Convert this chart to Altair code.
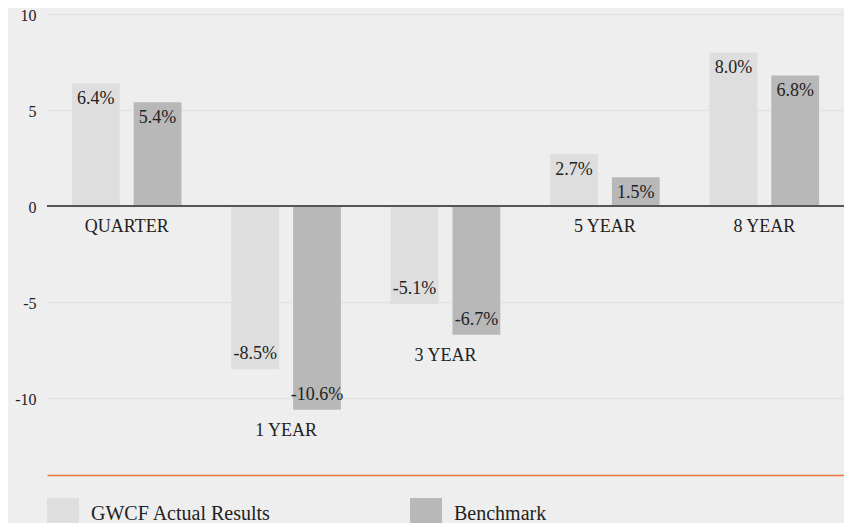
import altair as alt
import pandas as pd

categories = ["QUARTER", "1 YEAR", "3 YEAR", "5 YEAR", "8 YEAR"]
series_names = ["GWCF Actual Results", "Benchmark"]
actual = [6.4, -8.5, -5.1, 2.7, 8.0]
benchmark = [5.4, -10.6, -6.7, 1.5, 6.8]
y_ticks = [-10, -5, 0, 5, 10]
zero_line = [0]

FONT = "Liberation Serif"
BG = "#eeeeee"

rows = []
for c, a, b in zip(categories, actual, benchmark):
    rows.append({"cat": c, "series": series_names[0], "value": a, "label": f"{a:.1f}%"})
    rows.append({"cat": c, "series": series_names[1], "value": b, "label": f"{b:.1f}%"})
df = pd.DataFrame(rows)

cat_df = pd.DataFrame({
    "cat": categories,
    "low": [min(0, a, b) for a, b in zip(actual, benchmark)],
})
zero_df = pd.DataFrame({"zero": zero_line})

x_enc = alt.X("cat:N", scale=alt.Scale(domain=categories, paddingInner=0, paddingOuter=0), title=None)
xo_enc = alt.XOffset("series:N", scale=alt.Scale(domain=series_names, paddingInner=0.2258, paddingOuter=0.4032))
y_scale = alt.Scale(domain=[-14, 10], nice=False, zero=False)

bars = alt.Chart(df).mark_bar().encode(
    x=x_enc,
    xOffset=xo_enc,
    y=alt.Y("value:Q", scale=y_scale, title=None,
            axis=alt.Axis(values=y_ticks, labelExpr="'' + datum.value")),
    color=alt.Color("series:N",
                    scale=alt.Scale(domain=series_names, range=["#dedede", "#b8b8b8"]),
                    legend=alt.Legend(orient="none", legendX=0, legendY=484,
                                      direction="horizontal", title=None,
                                      symbolType="square", symbolSize=1024,
                                      symbolStrokeWidth=0, symbolOpacity=1,
                                      labelFont=FONT, labelFontSize=20,
                                      labelColor="#222222", labelOffset=12,
                                      labelLimit=400,
                                      columnPadding=139, padding=0)),
)

zero_rule = alt.Chart(zero_df).mark_rule(color="#555555", strokeWidth=2).encode(
    y=alt.Y("zero:Q", scale=y_scale, title=None)
)

pos_labels = alt.Chart(df).transform_filter("datum.value >= 0").mark_text(
    font=FONT, fontSize=18, color="#222222", baseline="alphabetic", dy=21
).encode(x=x_enc, xOffset=xo_enc, y=alt.Y("value:Q", scale=y_scale, title=None), text="label:N")

neg_labels = alt.Chart(df).transform_filter("datum.value < 0").mark_text(
    font=FONT, fontSize=18, color="#222222", baseline="alphabetic", dy=-10
).encode(x=x_enc, xOffset=xo_enc, y=alt.Y("value:Q", scale=y_scale, title=None), text="label:N")

cat_labels = alt.Chart(cat_df).mark_text(
    font=FONT, fontSize=18, color="#222222", baseline="alphabetic", dy=26
).encode(x=x_enc, y=alt.Y("low:Q", scale=y_scale, title=None), text="cat:N")

chart = alt.layer(bars, zero_rule, pos_labels, neg_labels, cat_labels).properties(
    width=797, height=461,
    autosize=alt.AutoSizeParams(type="none"),
    padding={"left": 39, "top": 6, "right": 0, "bottom": 48},
    background=BG,
).configure_view(stroke=None).configure_axisX(
    labels=False, ticks=False, grid=False, domainColor="#e8743f", domainWidth=1.5
).configure_axisY(
    domain=False, ticks=False, gridColor="#e3e3e3", gridWidth=1.5,
    labelFont=FONT, labelFontSize=16, labelColor="#222222", labelPadding=11,
    labelBaseline="alphabetic", labelOffset=6
)

chart.save("out.html", embed_options={"renderer": "svg", "actions": False})
